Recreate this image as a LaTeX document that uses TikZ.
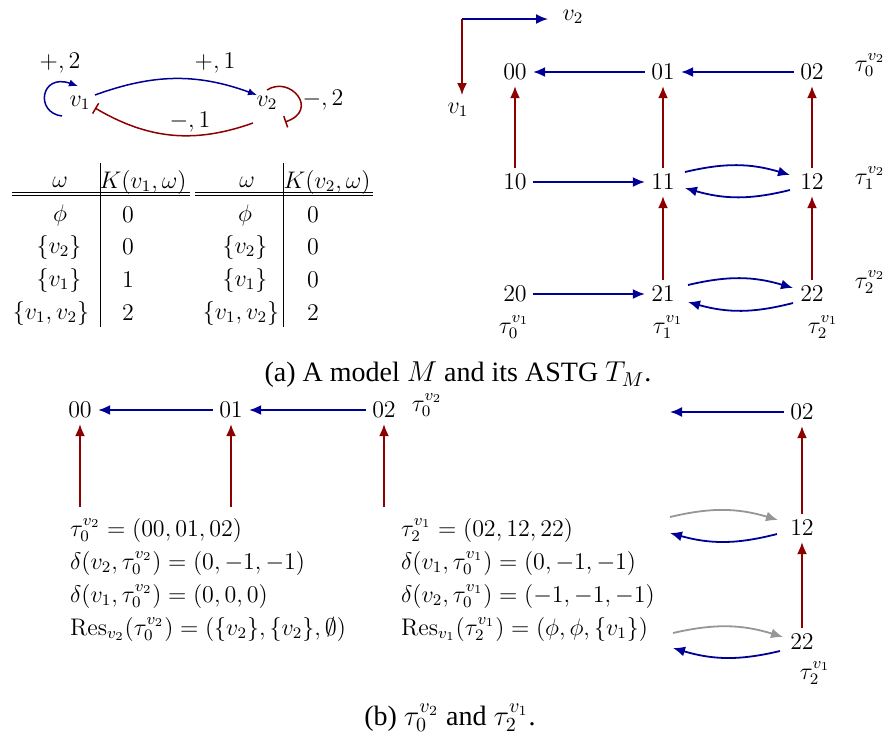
\documentclass[tikz,border=0pt]{standalone}
\usepackage[no-math]{fontspec}
\setmainfont{Liberation Serif}
\usetikzlibrary{arrows.meta,calc}
\definecolor{myblue}{RGB}{0,0,150}
\definecolor{myred}{RGB}{140,0,0}
\definecolor{mygray}{RGB}{150,150,150}
\begin{document}
\begin{tikzpicture}[x=0.5pt,y=-0.5pt,
  every node/.style={font=\fontsize{12}{14}\selectfont},
  st/.style={inner sep=3pt},
  arw/.style={-{Latex[length=6pt,width=5pt]}, line width=0.9pt},
  ba/.style={arw, myblue}, ra/.style={arw, myred}, ga/.style={arw, mygray},
  sarw/.style={-{Latex[length=4.5pt,width=3.6pt]}, line width=0.75pt},
  sba/.style={sarw, myblue},
  sinh/.style={-{Bar[width=6pt,line width=0.75pt]}, line width=0.75pt, myred},
  captxt/.style={font=\fontsize{14}{17}\selectfont},
  rule/.style={line width=0.4pt}
]
\useasboundingbox (0,0) rectangle (885,735);

% ---------- (a) left: regulatory graph ----------
\node (v1) at (80,103) {$v_1$};
\node (v2) at (267,103) {$v_2$};
\draw[sba] ($(v1)+(-18,13)$) .. controls ($(v1)+(-45,10)$) and ($(v1)+(-40,-30)$) .. ($(v1)+(-2,-17)$);
\draw[sba] ([shift={(15,-8)}]v1.center) to[bend left=20] ([shift={(-10,-8)}]v2.center);
\draw[sinh] ([shift={(-14,20)}]v2.center) to[bend left=25] ([shift={(15,5)}]v1.center);
\draw[sinh] ([shift={(0,-13)}]v2.center) .. controls ($(v2)+(23,-28)$) and ($(v2)+(53,7)$) .. ($(v2)+(18,19)$);
\node (l1) at (60,63) {$+,2$};
\node (l2) at (215,63) {$+,1$};
\node (l3) at (190,122) {$-,1$};
\node (l4) at (323,100) {$-,2$};

% ---------- (a) tables ----------
\node (ta) at (60,182) {$\omega$};
\node (tb) at (143,182) {$K(v_1,\omega)$};
\node (tc) at (247,182) {$\omega$};
\node (td) at (327,182) {$K(v_2,\omega)$};
\node (a1) at (60,215) {$\phi$};
\node (a2) at (59,247) {$\{v_2\}$};
\node (a3) at (59,280) {$\{v_1\}$};
\node (a4) at (51,313) {$\{v_1,v_2\}$};
\node (b1) at (128,215) {$0$};
\node (b2) at (128,247) {$0$};
\node (b3) at (128,280) {$1$};
\node (b4) at (128,313) {$2$};
\node (c1) at (245,215) {$\phi$};
\node (c2) at (245,247) {$\{v_2\}$};
\node (c3) at (245,280) {$\{v_1\}$};
\node (c4) at (241,313) {$\{v_1,v_2\}$};
\node (d1) at (313,215) {$0$};
\node (d2) at (313,247) {$0$};
\node (d3) at (313,280) {$0$};
\node (d4) at (313,313) {$2$};
\draw[rule] (100,163) -- (100,327);
\draw[rule] (283,163) -- (283,327);
\draw[rule] (12,192) -- (190,192);
\draw[rule] (12,195.5) -- (190,195.5);
\draw[rule] (195,192) -- (373,192);
\draw[rule] (195,195.5) -- (373,195.5);

% ---------- (a) right: ASTG ----------
\coordinate (ax) at (462,19);
\coordinate (axe) at (548,19);
\coordinate (axs) at (462,95);
\draw[ba] (ax) -- (axe);
\draw[ra] (ax) -- (axs);
\node (axv2) at (573,17) {$v_2$};
\node (axv1) at (458,110) {$v_1$};

\node[st] (n00) at (515,72) {$00$};
\node[st] (n01) at (663,72) {$01$};
\node[st] (n02) at (812,72) {$02$};
\node[st] (n10) at (515,182) {$10$};
\node[st] (n11) at (663,182) {$11$};
\node[st] (n12) at (812,182) {$12$};
\node[st] (n20) at (515,294) {$20$};
\node[st] (n21) at (663,294) {$21$};
\node[st] (n22) at (812,294) {$22$};

\draw[ba] (n01) -- (n00);
\draw[ba] (n02) -- (n01);
\draw[ba] (n10) -- (n11);
\draw[ba] (n20) -- (n21);
\draw[ra] (n10) -- (n00);
\draw[ra] (n11) -- (n01);
\draw[ra] (n12) -- (n02);
\draw[ra] (n21) -- (n11);
\draw[ra] (n22) -- (n12);
\draw[ba] ([shift={(22,-10)}]n11.center) to[bend left=15] ([shift={(-22,-7)}]n12.center);
\draw[ba] ([shift={(-22,8)}]n12.center) to[bend left=15] ([shift={(22,6)}]n11.center);
\draw[ba] ([shift={(25,-9)}]n21.center) to[bend left=15] ([shift={(-19,-6)}]n22.center);
\draw[ba] ([shift={(-19,9)}]n22.center) to[bend left=15] ([shift={(25,8)}]n21.center);

\node (t02) at (870,65) {$\tau_0^{v_2}$};
\node (t12) at (870,178) {$\tau_1^{v_2}$};
\node (t22) at (870,282) {$\tau_2^{v_2}$};
\node (t01) at (514,327) {$\tau_0^{v_1}$};
\node (t11) at (668,327) {$\tau_1^{v_1}$};
\node (t21) at (823,327) {$\tau_2^{v_1}$};

\node[captxt] (capa) at (458,375) {(a) A model $M$ and its ASTG $T_M$.};

% ---------- (b) left ----------
\node[st] (b00) at (80,410) {$00$};
\node[st] (b01) at (231,410) {$01$};
\node[st] (b02) at (384,410) {$02$};
\node (btau) at (427,405) {$\tau_0^{v_2}$};
\draw[ba] (b01) -- (b00);
\draw[ba] (b02) -- (b01);
\coordinate (bb0) at (80,507);
\coordinate (bb1) at (231,507);
\coordinate (bb2) at (384,507);
\draw[ra] (bb0) -- (b00);
\draw[ra] (bb1) -- (b01);
\draw[ra] (bb2) -- (b02);

\node[anchor=base west] (e1) at (63,536) {$\tau_0^{v_2} = (00,01,02)$};
\node[anchor=base west] (e2) at (63,569) {$\delta(v_2,\tau_0^{v_2}) = (0,-1,-1)$};
\node[anchor=base west] (e3) at (63,602) {$\delta(v_1,\tau_0^{v_2}) = (0,0,0)$};
\node[anchor=base west] (e4) at (63,635) {$\mathrm{Res}_{v_2}(\tau_0^{v_2}) = (\{v_2\},\{v_2\},\emptyset)$};
\node[anchor=base west] (f1) at (394,536) {$\tau_2^{v_1} = (02,12,22)$};
\node[anchor=base west] (f2) at (394,569) {$\delta(v_1,\tau_0^{v_1}) = (0,-1,-1)$};
\node[anchor=base west] (f3) at (394,602) {$\delta(v_2,\tau_0^{v_1}) = (-1,-1,-1)$};
\node[anchor=base west] (f4) at (394,635) {$\mathrm{Res}_{v_1}(\tau_2^{v_1}) = (\phi,\phi,\{v_1\})$};

% ---------- (b) right ----------
\node[st] (c02) at (802,412) {$02$};
\node[st] (c12) at (802,528) {$12$};
\node[st] (c22) at (802,642) {$22$};
\node (ctau) at (815,673) {$\tau_2^{v_1}$};
\coordinate (cl0) at (670,412);
\coordinate (g1) at (670,517);
\coordinate (h1) at (670,533);
\coordinate (g2) at (673,633);
\coordinate (h2) at (673,648);
\draw[ba] (c02) -- (cl0);
\draw[ra] (c12) -- (c02);
\draw[ra] (c22) -- (c12);
\draw[ga] (g1) to[bend left=15] ([shift={(-24,-8)}]c12.center);
\draw[ba] ([shift={(-25,6)}]c12.center) to[bend left=15] (h1);
\draw[ga] (g2) to[bend left=15] ([shift={(-19,-5)}]c22.center);
\draw[ba] ([shift={(-22,9)}]c22.center) to[bend left=15] (h2);

\node[captxt] (capb) at (450,718) {(b) $\tau_0^{v_2}$ and $\tau_2^{v_1}$.};
\end{tikzpicture}
\end{document}
